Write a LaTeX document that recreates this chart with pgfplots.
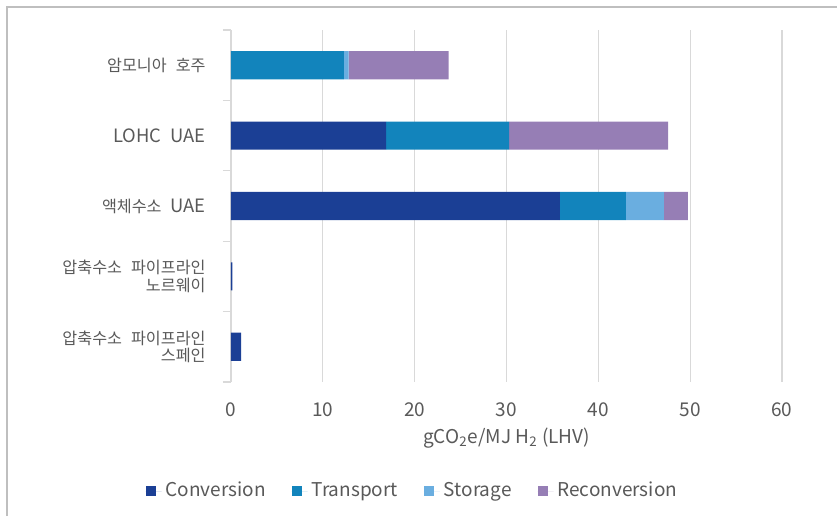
\documentclass[border=0pt]{standalone}
\usepackage{fontspec}
\setmainfont{Noto Sans CJK KR}
\usepackage{pgfplots}
\pgfplotsset{compat=1.18}
\definecolor{cConv}{HTML}{1B3F95}
\definecolor{cTrans}{HTML}{1284BC}
\definecolor{cStor}{HTML}{6AAEE0}
\definecolor{cRecon}{HTML}{967EB5}
\definecolor{gridgray}{HTML}{D9D9D9}
\definecolor{txtgray}{HTML}{595959}
\definecolor{bordergray}{HTML}{BFBFBF}
\newcommand\K[1]{{\fontsize{8.1}{8.8}\selectfont #1}}
\newcommand\wsp{\hspace{4.5pt}}
\begin{document}
\begin{tikzpicture}
\path[use as bounding box] (-115.5pt,-67pt) rectangle (303pt,191pt);
\draw[bordergray, line width=0.6pt] (-112pt,-67pt) -- (-112pt,187.5pt) -- (303pt,187.5pt);
\begin{axis}[
  scale only axis,
  width=275.5pt, height=176pt,
  at={(0pt,0pt)}, anchor=south west,
  xbar stacked,
  bar width=0.4,
  xmin=0, xmax=60,
  ymin=-0.5, ymax=4.5,
  y dir=reverse,
  xtick={0,10,...,60},
  ytick={0,1,2,3,4},
  yticklabels={\K{암모니아}\wsp\K{호주}, LOHC\wsp UAE, \K{액체수소}\wsp UAE, {\K{압축수소}\wsp\K{파이프라인}\\\K{노르웨이}}, {\K{압축수소}\wsp\K{파이프라인}\\\K{스페인}}},
  minor ytick={-0.5,0.5,...,4.5},
  major tick length=0pt,
  minor tick length=4pt,
  tick align=outside,
  tick style={color=gridgray, line width=0.6pt},
  xmajorgrids,
  grid style={color=gridgray, line width=0.6pt},
  axis x line*=bottom,
  axis y line*=left,
  x axis line style={draw=none},
  y axis line style={color=gridgray, line width=0.6pt},
  /pgf/number format/assume math mode=true,
  tick label style={font=\fontsize{9.5}{9}\selectfont, text=txtgray},
  xticklabel style={anchor=center, yshift=-14pt},
  yticklabel style={anchor=east, align=right, inner sep=0pt, xshift=-12.5pt, font=\fontsize{9.2}{8.6}\selectfont},
  xlabel={gCO\textsubscript{2}e/MJ H\textsubscript{2} (LHV)},
  x label style={at={(axis description cs:0.5,0)}, anchor=center, yshift=-28pt, font=\fontsize{9.5}{11}\selectfont, text=txtgray},
  legend columns=4,
  legend style={draw=none, at={(axis description cs:0.331,-0.31)}, anchor=center,
    font=\fontsize{9.5}{11}\selectfont, text=txtgray,
    /tikz/every even column/.append style={column sep=11pt}},
  legend image code/.code={\fill[#1] (0pt,-2.5pt) rectangle (5pt,2.5pt); \path (0pt,0pt) -- (8pt,0pt);},
]
\addplot[fill=cConv, draw=none] coordinates {(0,0) (16.9,1) (35.8,2) (0.15,3) (1.1,4)};
\addplot[fill=cTrans, draw=none] coordinates {(12.3,0) (13.4,1) (7.2,2) (0,3) (0,4)};
\addplot[fill=cStor, draw=none] coordinates {(0.5,0) (0,1) (4.15,2) (0,3) (0,4)};
\addplot[fill=cRecon, draw=none] coordinates {(10.9,0) (17.3,1) (2.6,2) (0,3) (0,4)};
\legend{Conversion, Transport, Storage, Reconversion}
\end{axis}
\end{tikzpicture}
\end{document}
